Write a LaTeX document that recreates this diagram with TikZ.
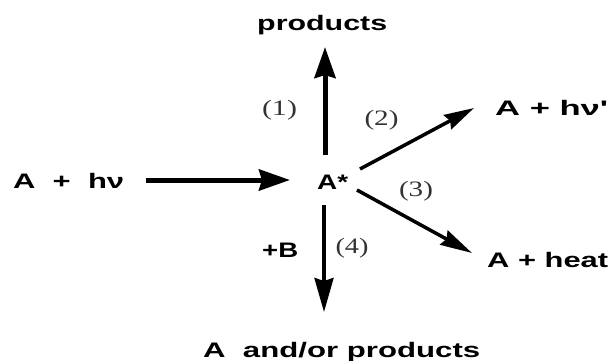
\documentclass[tikz,border=0pt]{standalone}
\usepackage{fontspec}
\usepackage{graphicx}
\setmainfont{Liberation Sans}
\newfontfamily\seriffont{Liberation Serif}
\usetikzlibrary{arrows.meta}
\newcommand{\wideB}[2]{\resizebox{#1pt}{\height}{\fontsize{21}{21}\selectfont\bfseries #2}}
\newcommand{\wideS}[2]{\resizebox{#1pt}{\height}{\fontsize{22}{22}\selectfont\seriffont #2}}
\tikzset{
  lbl/.style={inner sep=0pt, anchor=base west},
  num/.style={inner sep=0pt, text=black!80},
  thick arrow/.style={line width=5pt, -{Stealth[length=31pt, width=21pt, inset=3pt]}},
  thin arrow/.style={line width=3.5pt, -{Stealth[length=30pt, width=17pt, inset=3pt]}},
}
\begin{document}
\begin{tikzpicture}[x=1pt, y=-1pt]
\useasboundingbox (0,0) rectangle (613,360);
% texts
\node[lbl] (prod) at (257,30) {\wideB{130}{products}};
\node[lbl] (Ahv) at (13,188) {\wideB{111}{A\ \ +\ \ hν}};
\node[lbl] (Astar) at (317,189) {\wideB{31}{A*}};
\node[lbl] (Ahvp) at (495,115) {\wideB{113}{A + hν\textquotesingle}};
\node[lbl] (Aheat) at (487,267) {\wideB{121}{A + heat}};
\node[lbl] (Aprod) at (203,357) {\wideB{277}{A\ \ and/or products}};
\node[lbl] (plusB) at (262,257) {\wideB{36}{+B}};
\node[num] (n1) at (279.5,110.5) {\wideS{35}{(1)}};
\node[num] (n2) at (381.5,120.5) {\wideS{34}{(2)}};
\node[num] (n3) at (416,191.5) {\wideS{34}{(3)}};
\node[num] (n4) at (352,248.5) {\wideS{33}{(4)}};
% arrow end points
\coordinate (inS) at (146,180);
\coordinate (inE) at (290,180);
\coordinate (upS) at (325,155);
\coordinate (upE) at (325,47);
\coordinate (fS) at (360,169);
\coordinate (fE) at (474,108);
\coordinate (hS) at (357,190);
\coordinate (hE) at (472,253);
\coordinate (dS) at (324,205);
\coordinate (dE) at (324,312);
% arrows
\draw[thick arrow] (inS) -- (inE);
\draw[thick arrow] (upS) -- (upE);
\draw[thin arrow, -{Stealth[length=30pt, width=16pt, inset=3pt]}] (fS) -- (fE);
\draw[thin arrow, -{Stealth[length=32pt, width=16pt, inset=3pt]}] (hS) -- (hE);
\draw[thin arrow, -{Stealth[length=34pt, width=19pt, inset=3pt]}] (dS) -- (dE);
\end{tikzpicture}
\end{document}
